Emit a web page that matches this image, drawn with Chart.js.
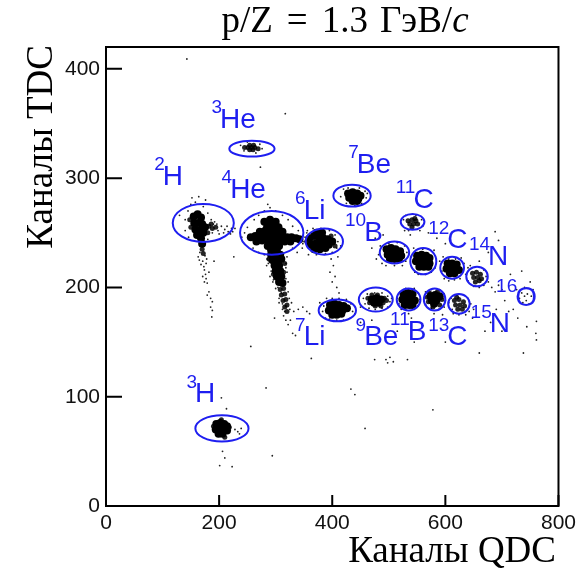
<!DOCTYPE html>
<html>
<head>
<meta charset="utf-8">
<script src="https://cdn.jsdelivr.net/npm/chart.js@4.4.1/dist/chart.umd.min.js"></script>
<style>
  html, body { margin: 0; padding: 0; background: #fff; }
  #wrap { width: 581px; height: 572px; }
</style>
</head>
<body>
<div id="wrap"><canvas id="pid-chart" width="581" height="572"></canvas></div>
<script>
// axis ticks
const xTicks = [0, 200, 400, 600, 800];
const yTicks = [0, 100, 200, 300, 400];

// dense cores of the clusters [QDC, TDC]
const denseCores = [
  // 2H
  [155,265],[162,267],[168,264],[156,259],[163,259],[170,258],[175,255],[158,253],[165,252],[172,250],[161,248],[168,245],[170,240],
  // 4He
  [280,260],[290,262],[300,260],[285,256],[295,257],[305,255],
  [256,246],[264,247],[272,247],[280,248],[288,248],[296,248],[304,247],[312,247],[320,246],[328,246],[336,245],[342,244],
  [266,242],[276,243],[286,243],[296,243],[306,243],[316,242],[326,242],
  [272,251],[282,252],[292,252],[302,252],[312,251],
  [286,238],[296,238],[306,238],[292,234],[302,234],
  [292,230],[300,230],[308,230],[294,225],[302,225],[310,226],[298,220],[306,220],[300,215],[308,215],[302,210],[310,210],[306,205],[312,204],
  // 6Li
  [360,245],[368,247],[376,246],[384,245],[392,244],[400,242],[362,239],[370,240],[378,240],[386,240],[394,239],[368,235],[378,235],[388,236],[372,250],[382,250],
  // 7Be
  [428,286],[436,287],[444,286],[450,284],[430,282],[438,282],[446,281],[436,279],[444,279],
  // 10B
  [496,235],[504,236],[512,235],[520,233],[498,230],[506,230],[514,230],[522,229],[502,226],[510,226],[518,226],
  // 12C
  [550,229],[558,230],[566,229],[572,227],[548,224],[556,224],[564,224],[572,222],[554,219],[562,219],[570,219],
  // 14N
  [604,222],[612,222],[620,221],[602,217],[610,217],[618,217],[624,216],[608,213],[616,213],
  // 7Li
  [396,184],[404,185],[412,184],[420,183],[426,181],[394,179],[402,179],[410,179],[418,179],[400,175],[408,175],[416,176],
  // 9Be
  [470,189],[478,190],[486,189],[474,186],[482,186],
  // 11B
  [526,194],[534,195],[542,194],[524,189],[532,189],[540,189],[546,188],[528,184],[536,184],[542,184],
  // 13C
  [574,192],[582,193],[590,192],[576,188],[584,188],[580,185],
  // 3H
  [195,75],[202,76],[209,75],[214,73],[194,70],[201,71],[208,71],[214,69],[199,66],[206,66]
];

// lighter parts of the clusters
const lightCores = [
  [182,256],[188,254],[180,250],[194,255],[186,258],[148,262],[150,255],[170,235],[172,231],
  [314,199],[308,198],[316,194],[310,193],[318,189],[313,188],[320,184],[316,182],[320,178],[288,226],[316,222],[296,212],[314,214],
  [355,242],[405,238],[398,247],
  [534,261],[541,262],[548,261],[537,258],[544,258],[551,258],[541,255],[546,263],
  [648,213],[655,214],[662,212],[650,209],[657,209],[664,208],[653,205],[660,206],
  [463,190],[466,186],[492,190],[490,186],[470,193],[480,193],[476,183],[486,183],[496,188],
  [568,191],[570,187],[594,189],[572,195],[586,196],[578,182],[590,184],
  [616,188],[624,189],[632,187],[618,184],[626,184],[634,183],[622,180],[630,180],[620,191],
  [245,328],[251,328],[257,328],[263,328],[269,327],[254,326],[260,326],[254,330],[261,330],
  [190,73],[218,72],[204,79],[210,63]
];

// single events
const sparseDots = [
  [143,409],[317,359],[273,310],[283,108],[433,107],[440,102],[578,88],[458,71],[294,46],[204,99],[213,89],
  [206,50],[210,44],[201,37],[223,36],[228,70],[233,68],[239,71],[236,66],
  [238,330],[276,327],[250,333],[265,323],[244,325],[272,331],
  [140,262],[145,270],[150,276],[158,278],[172,274],[180,268],[186,262],[190,258],[224,251],[228,254],[188,250],
  [140,252],[146,246],[180,244],[152,282],[164,283],[130,266],[176,280],
  [198,252],[204,256],[210,253],[216,251],[222,254],[200,249],[208,250],[192,260],[214,256],[220,249],[196,258],
  [166,232],[175,229],[163,228],[178,226],
  [171,224],[177,222],[168,221],[174,216],[182,214],[171,210],[177,208],[174,205],[179,204],[182,196],[179,193],
  [185,190],[188,187],[185,182],[188,179],[187,173],[191,224],[165,225],[173,219],[176,212],[226,228],
  [250,255],[245,250],[240,246],[352,246],[348,240],[355,250],[262,262],[270,266],[280,270],[286,276],[290,273],
  [300,270],[312,266],[322,262],[330,256],[340,252],[260,236],[270,232],[330,236],[338,232],[280,230],[320,228],
  [287,222],[318,222],[292,215],[320,214],[296,207],[322,205],[300,199],[306,190],[312,185],[316,178],[325,180],
  [310,195],[328,186],[332,178],[340,180],[348,182],[355,178],[360,176],[330,158],[335,156],[256,146],[363,135],
  [298,172],[326,170],[285,226],[318,218],[295,205],[318,208],[304,200],[322,196],[306,186],[324,190],[314,174],
  [318,170],[322,166],[312,180],[284,220],[290,210],
  [350,242],[347,236],[356,252],[366,254],[380,254],[395,252],[405,248],[410,242],[408,236],[400,232],[388,231],
  [372,230],[358,230],[398,226],[402,220],[396,214],[405,210],[400,205],[408,200],[412,195],[410,228],[415,238],
  [415,283],[420,290],[428,291],[448,291],[458,288],[460,282],[452,277],[440,275],[425,277],[462,286],
  [485,238],[482,230],[488,222],[500,240],[515,241],[528,238],[532,232],[530,224],[524,220],[510,220],[495,220],
  [478,226],[470,236],[476,245],[490,248],[528,252],[535,252],[526,262],[530,266],[548,266],[558,262],[560,256],
  [555,252],[538,248],[544,236],[540,228],[546,214],[552,212],[565,212],[575,214],[582,218],[584,226],[580,234],
  [570,235],[560,235],[590,224],[594,215],[598,208],[606,206],[616,207],[626,208],[630,214],[633,222],[628,227],
  [618,226],[606,226],[596,228],[640,218],[644,220],[668,216],[672,210],[668,202],[660,200],[650,201],[640,206],
  [636,212],[676,205],[682,200],[688,196],[694,202],[700,198],[688,251],[694,243],[676,232],[660,224],[600,240],
  [585,245],[570,250],
  [385,183],[383,178],[390,190],[400,190],[412,190],[425,189],[433,185],[436,178],[432,172],[420,170],[408,170],
  [395,171],[388,172],[440,176],[378,186],
  [455,190],[458,185],[462,194],[475,195],[488,195],[498,192],[502,187],[498,182],[488,181],[476,180],[465,181],
  [505,190],[450,182],
  [515,190],[518,185],[520,196],[530,199],[545,199],[552,195],[555,189],[552,183],[545,180],[530,180],[522,180],
  [535,176],[540,172],
  [562,190],[565,196],[575,198],[590,198],[598,194],[600,188],[598,182],[588,180],[575,181],[565,184],[580,176],
  [595,175],
  [606,186],[610,190],[612,180],[620,193],[632,193],[640,190],[645,185],[642,178],[636,175],[624,175],[614,176],
  [650,180],[648,172],
  [735,195],[740,192],[743,188],[737,186],[731,190],[745,194],[748,185],[726,198],[752,192],
  [760,158],[744,164],[761,169],[738,140],[761,152],[755,198],[720,180],[728,172],[705,188],[712,178],[690,180],
  [680,168],[700,160],[670,160],[560,165],[515,160],[470,170],[450,168],[545,150],[600,150],[660,140],[740,200],
  [750,205],[735,215],[715,212],
  [495,134],[502,136],[508,132],[475,134],[533,134],[498,131]
];

// selection ellipses (centre and half axes, in channels)
const cutX  = [258, 172, 293, 386, 435, 542, 510, 561, 612, 656, 409, 477, 535, 581, 624, 205];
const cutY  = [327, 259, 250, 242, 284, 260, 232, 224, 218, 210, 179, 189, 189, 189, 185, 71];
const cutRx = [40, 54, 56, 33, 33, 21, 26, 23, 21, 19, 33, 30, 21, 19, 19, 47];
const cutRy = [7.3, 17.4, 20, 12, 10, 7.3, 10, 12, 10, 9, 10, 11, 10, 10, 9, 12];

// isotope labels
const labelMass = ['3', '2', '4', '6', '7', '7', '11', '10', '12', '14', '16', '9', '11', '13', '15', '3'];
const labelElem = ['He', 'H', 'He', 'Li', 'Li', 'Be', 'C', 'B', 'C', 'N', 'O', 'Be', 'B', 'C', 'N', 'H'];
const labelX = [205, 104, 223, 353, 353, 447, 547, 460, 607, 679, 727, 460, 537, 607, 682, 161];
const labelY = [353, 301, 289, 270, 154, 312, 280, 250, 243, 228, 190, 154, 159, 154, 166, 102];

const BLUE = '#1e1ef0';
const SERIF = '"Liberation Serif", "Times New Roman", serif';
const SANS = '"Liberation Sans", Arial, sans-serif';

const toPts = (arr) => arr.map(p => ({ x: p[0], y: p[1] }));

const decorPlugin = {
  id: 'decor',
  afterDatasetsDraw(chart) {
    const { ctx, scales: { x, y } } = chart;
    ctx.save();
    ctx.strokeStyle = BLUE;
    ctx.lineWidth = 2;
    cutX.forEach((cx, i) => {
      const px = x.getPixelForValue(cx);
      const py = y.getPixelForValue(cutY[i]);
      const rx = Math.abs(x.getPixelForValue(cx + cutRx[i]) - px);
      const ry = Math.abs(y.getPixelForValue(cutY[i] + cutRy[i]) - py);
      ctx.beginPath();
      ctx.ellipse(px, py, rx, ry, 0, 0, Math.PI * 2);
      ctx.stroke();
    });

    ctx.fillStyle = BLUE;
    ctx.textBaseline = 'middle';
    labelElem.forEach((el, i) => {
      const px = x.getPixelForValue(labelX[i]);
      const py = y.getPixelForValue(labelY[i]);
      ctx.font = '28px ' + SANS;
      ctx.textAlign = 'left';
      ctx.fillText(el, px - 2, py);
      ctx.font = '19px ' + SANS;
      ctx.textAlign = 'right';
      ctx.fillText(labelMass[i], px, py - 12);
    });
    ctx.restore();
  },
  afterDraw(chart) {
    const { ctx, chartArea: a, scales: { x, y } } = chart;
    ctx.save();
    // frame
    ctx.strokeStyle = '#000';
    ctx.lineWidth = 2;
    ctx.strokeRect(a.left, a.top, a.right - a.left, a.bottom - a.top);
    // inward ticks
    ctx.beginPath();
    xTicks.forEach(v => {
      const px = x.getPixelForValue(v);
      ctx.moveTo(px, a.bottom);
      ctx.lineTo(px, a.bottom - 11);
    });
    yTicks.forEach(v => {
      const py = y.getPixelForValue(v);
      ctx.moveTo(a.left, py);
      ctx.lineTo(a.left + 16, py);
    });
    ctx.stroke();

    // title
    ctx.fillStyle = '#000';
    ctx.textBaseline = 'alphabetic';
    ctx.textAlign = 'left';
    const parts = [['p/Z', 'normal'], ['=', 'normal'], ['1.3', 'normal'], ['ГэВ/', 'normal'], ['c', 'italic']];
    const gaps = [14, 14, 12, 0];
    const size = 37;
    let total = 0;
    parts.forEach((p, i) => {
      ctx.font = p[1] + ' ' + size + 'px ' + SERIF;
      total += ctx.measureText(p[0]).width + (gaps[i] || 0);
    });
    let tx = 345 - total / 2;
    parts.forEach((p, i) => {
      ctx.font = p[1] + ' ' + size + 'px ' + SERIF;
      ctx.fillText(p[0], tx, 32);
      tx += ctx.measureText(p[0]).width + (gaps[i] || 0);
    });

    // axis titles
    ctx.font = size + 'px ' + SERIF;
    ctx.textAlign = 'right';
    ctx.fillText('Каналы QDC', 556, 562);
    ctx.save();
    ctx.translate(52, a.top - 2);
    ctx.rotate(-Math.PI / 2);
    ctx.textAlign = 'right';
    ctx.fillText('Каналы TDC', 0, 0);
    ctx.restore();
    ctx.restore();
  }
};

new Chart(document.getElementById('pid-chart'), {
  type: 'scatter',
  data: {
    datasets: [
      { label: 'ядро', data: toPts(denseCores), pointRadius: 4, borderWidth: 0, backgroundColor: '#000' },
      { label: 'край', data: toPts(lightCores), pointRadius: 2.5, borderWidth: 0, backgroundColor: 'rgba(0,0,0,0.85)' },
      { label: 'события', data: toPts(sparseDots), pointRadius: 0.9, borderWidth: 0, backgroundColor: '#222' }
    ]
  },
  options: {
    responsive: false,
    animation: false,
    events: [],
    layout: { padding: { top: 47, right: 19, left: 46, bottom: 26 } },
    plugins: { legend: { display: false }, tooltip: { enabled: false }, title: { display: false } },
    scales: {
      x: {
        type: 'linear', min: 0, max: 800,
        grid: { display: false, drawTicks: false },
        border: { display: false },
        afterBuildTicks: (s) => { s.ticks = xTicks.map(v => ({ value: v })); },
        afterFit: (s) => { s.height = 40; },
        ticks: { padding: 5, color: '#111', font: { family: SANS, size: 21 }, maxRotation: 0 }
      },
      y: {
        type: 'linear', min: 0, max: 420,
        grid: { display: false, drawTicks: false },
        border: { display: false },
        afterBuildTicks: (s) => { s.ticks = yTicks.map(v => ({ value: v })); },
        afterFit: (s) => { s.width = 60; },
        ticks: { padding: 6, color: '#111', font: { family: SANS, size: 21 } }
      }
    }
  },
  plugins: [decorPlugin]
});
</script>
</body>
</html>
